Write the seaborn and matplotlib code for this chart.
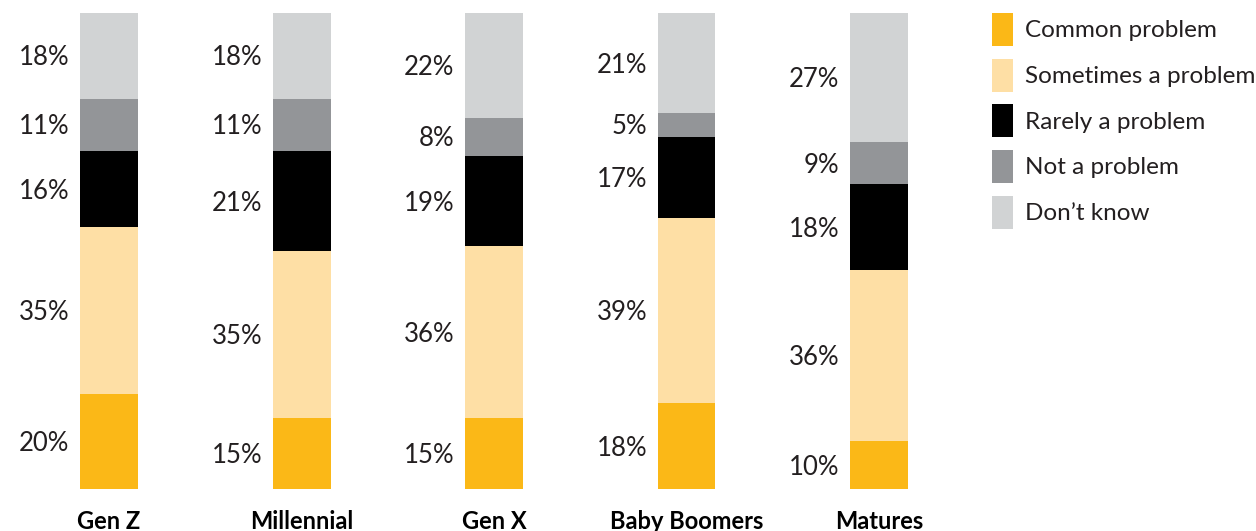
import matplotlib
matplotlib.use("Agg")
import matplotlib.pyplot as plt
from matplotlib.patches import Patch
import seaborn as sns
import numpy as np
import pandas as pd

categories = ["Gen Z", "Millennial", "Gen X", "Baby Boomers", "Matures"]
series_names = ["Common problem", "Sometimes a problem", "Rarely a problem",
                "Not a problem", "Don\u2019t know"]
common = [20, 15, 15, 18, 10]
sometimes = [35, 35, 36, 39, 36]
rarely = [16, 21, 19, 17, 18]
not_problem = [11, 11, 8, 5, 9]
dont_know = [18, 18, 22, 21, 27]
colors = ["#FBB817", "#FEDFA5", "#000000", "#939598", "#D1D3D4"]

sns.set_theme(style="white")
plt.rcParams['font.family'] = ['Lato', 'DejaVu Sans']
text_color = "#231F20"

layers = [common, sometimes, rarely, not_problem, dont_know]
cum = np.cumsum(np.array(layers, dtype=float), axis=0)

fig = plt.figure(figsize=(12.56, 5.31), dpi=100)
ax = fig.add_axes([12.75 / 1256, 42 / 531, 962.5 / 1256, 476 / 531])

bar_w = 58 / 192.5
for k in range(len(layers) - 1, -1, -1):
    df = pd.DataFrame({"cat": categories, "val": cum[k]})
    sns.barplot(data=df, x="cat", y="val", order=categories, color=colors[k],
                width=bar_w, saturation=1, ax=ax, linewidth=0, errorbar=None)

for k in range(len(layers)):
    for i in range(len(categories)):
        bottom = cum[k][i] - layers[k][i]
        mid = bottom + layers[k][i] / 2
        ax.annotate(f"{layers[k][i]}%", xy=(i - bar_w / 2, mid), xytext=(-7.5, -1.5),
                    textcoords="offset points", ha="right", va="center",
                    fontsize=18.5, fontweight="normal", color=text_color)

ax.set_xlim(-0.5, 4.5)
ax.set_ylim(0, 100)
ax.set_yticks([])
ax.set_xlabel("")
ax.set_ylabel("")
ax.set_xticks(range(len(categories)))
ax.set_xticklabels(categories, fontsize=17, fontweight="bold", color="#000000")
ax.tick_params(axis="x", length=0, pad=15)
for s in ax.spines.values():
    s.set_visible(False)

handles = [Patch(facecolor=c, edgecolor="none") for c in colors]
fig.legend(handles, series_names, loc="upper left",
           bbox_to_anchor=(992 / 1256, 1 - 13 / 531), frameon=False,
           fontsize=17.5, handlelength=0.86, handleheight=1.7, labelspacing=0.53,
           handletextpad=0.5, borderpad=0, borderaxespad=0, labelcolor=text_color)

fig.savefig("out.png", dpi=100)
